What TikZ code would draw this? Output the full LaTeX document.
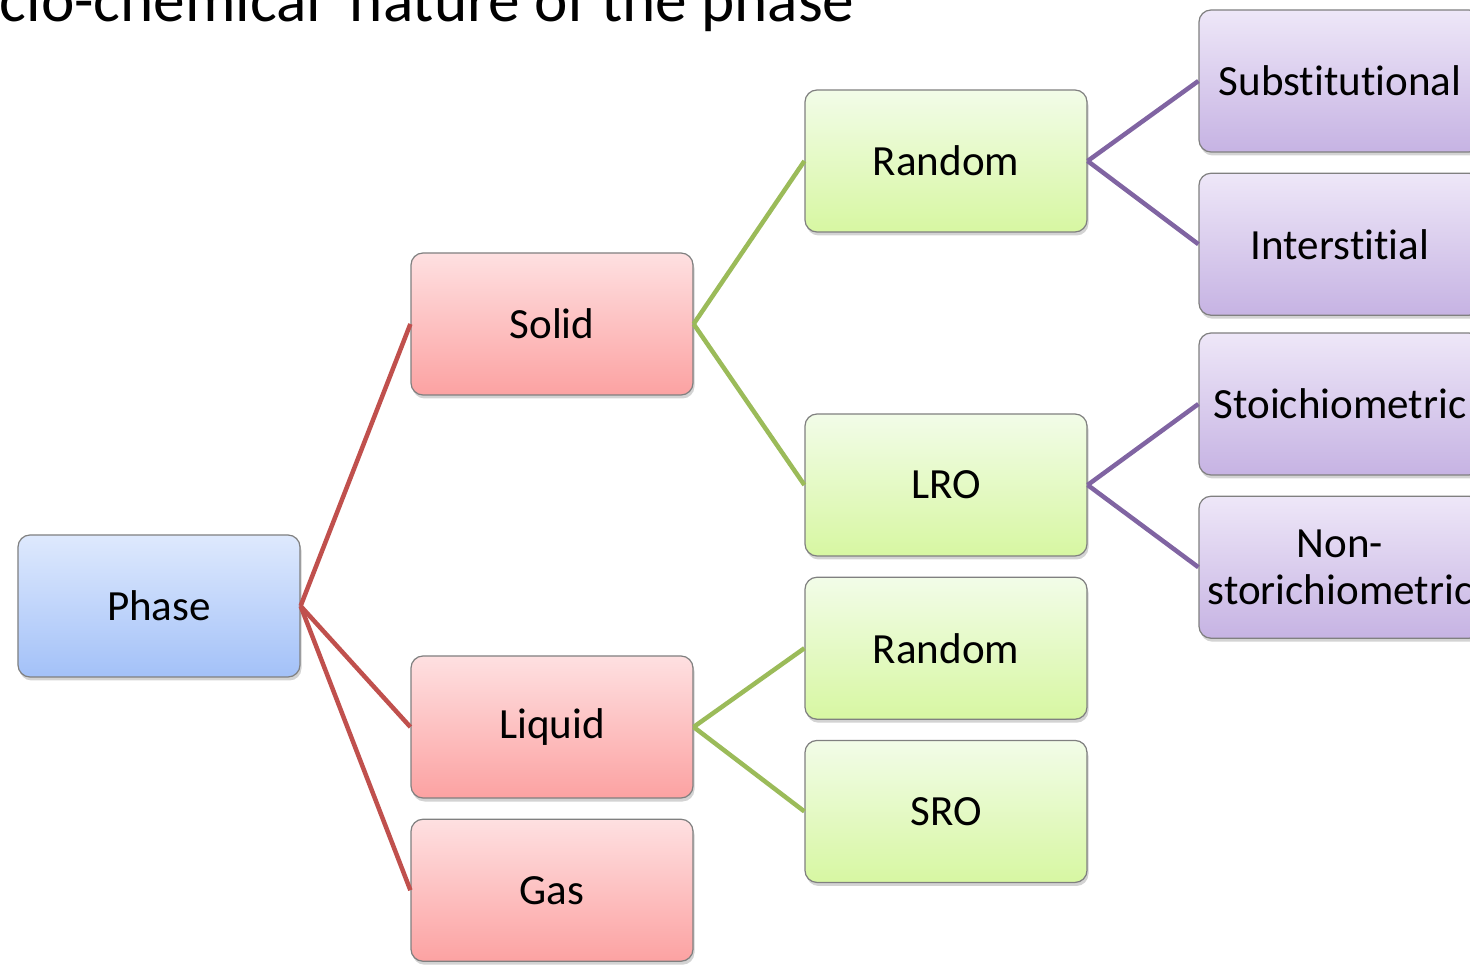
\documentclass[tikz,border=0pt]{standalone}
\usepackage{fontspec}
\setmainfont{Carlito}[Ligatures={NoCommon}]
\usepackage{tikz}
\usetikzlibrary{positioning,shadows}
\definecolor{BlueTop}{HTML}{DEE9FD}
\definecolor{BlueBot}{HTML}{A3C1F8}
\definecolor{RedTop}{HTML}{FEE0E1}
\definecolor{RedBot}{HTML}{FCA2A2}
\definecolor{GreenTop}{HTML}{F2FCE8}
\definecolor{GreenBot}{HTML}{D7F7A2}
\definecolor{PurpleTop}{HTML}{EEE7F8}
\definecolor{PurpleBot}{HTML}{C6B3E3}
\definecolor{LineRed}{HTML}{C0504D}
\definecolor{LineGreen}{HTML}{9BBB59}
\definecolor{LinePurple}{HTML}{8064A2}
\tikzset{
  % Base box
  FB/.style={rectangle,rounded corners=0.24cm,
             minimum width=5.64cm,minimum height=2.84cm,
             text centered,align=center,draw=black!50,line width=0.7pt,
             font=\fontsize{24.5}{26.5}\selectfont,
             drop shadow={shadow xshift=0.03cm,shadow yshift=-0.07cm,opacity=0.35}},
  % Colour variants
  nB/.style={FB,top color=BlueTop,  bottom color=BlueBot},
  nR/.style={FB,top color=RedTop,   bottom color=RedBot},
  nV/.style={FB,top color=GreenTop, bottom color=GreenBot},
  nP/.style={FB,top color=PurpleTop,bottom color=PurpleBot},
  % Connectors
  lR/.style={draw=LineRed,   line width=0.09cm},
  lV/.style={draw=LineGreen, line width=0.09cm},
  lP/.style={draw=LinePurple,line width=0.09cm}
}
\begin{document}
\begin{tikzpicture}[node distance=0.4cm]
  \clip (0,0) rectangle (29.4,19.3);
  \node[anchor=base east,font=\fontsize{36}{40}\selectfont,inner sep=0pt] (title) at (17.1,18.86)
       {cio-chemical\ \ nature of the phase};

  \node[nB] (phase)  at (3.18,7.18)   {Phase};
  \node[nR] (solid)  at (11.04,12.82) {Solid};
  \node[nR] (liquid) at (11.04,4.76)  {Liquid};
  \node[nR,below=of liquid] (gas) {Gas};

  \node[nV] (rnd)  at (18.92,16.08) {Random};
  \node[nV] (lro)  at (18.92,9.6)   {LRO};
  \node[nV,below=of lro]  (rndl) {Random};
  \node[nV,below=of rndl] (sro)  {SRO};

  \node[nP] (subst) at (26.8,17.68) {Substitutional};
  \node[nP,below=of subst] (inter) {Interstitial};
  \node[nP] (stoich) at (26.8,11.22) {Stoichiometric};
  \node[nP,below=of stoich] (nonst) {Non-\\storichiometric};

  \draw[lR] (phase.east) -- (solid.west);
  \draw[lR] (phase.east) -- (liquid.west);
  \draw[lR] (phase.east) -- (gas.west);
  \draw[lV] (solid.east) -- (rnd.west);
  \draw[lV] (solid.east) -- (lro.west);
  \draw[lV] (liquid.east) -- (rndl.west);
  \draw[lV] (liquid.east) -- (sro.west);
  \draw[lP] (rnd.east) -- (subst.west);
  \draw[lP] (rnd.east) -- (inter.west);
  \draw[lP] (lro.east) -- (stoich.west);
  \draw[lP] (lro.east) -- (nonst.west);
\end{tikzpicture}
\end{document}
